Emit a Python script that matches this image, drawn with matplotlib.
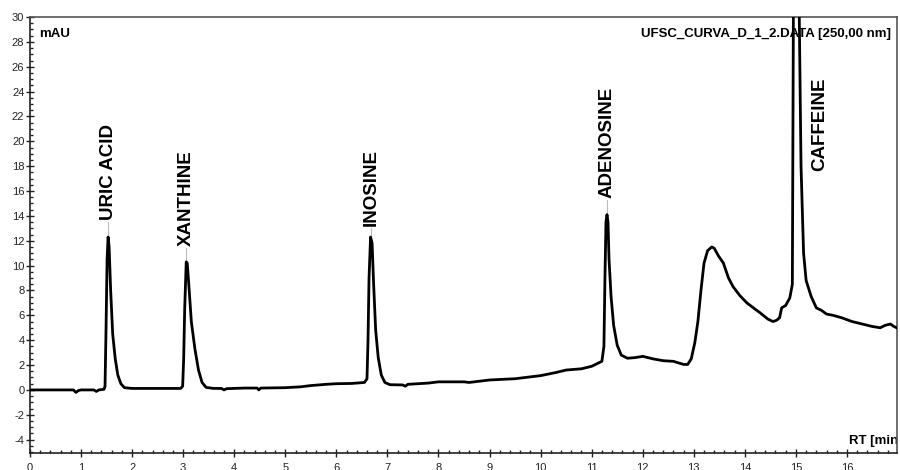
import numpy as np
import matplotlib
matplotlib.use('Agg')
import matplotlib.pyplot as plt
from matplotlib.ticker import MultipleLocator

plt.rcParams['font.family'] = ['Liberation Sans', 'DejaVu Sans']

# retention time [min] and absorbance [mAU]
rt = [0.0, 0.5, 0.85, 0.9, 0.95, 1.0, 1.25, 1.3, 1.35, 1.45,
      1.47, 1.49, 1.51, 1.53, 1.55, 1.58, 1.62, 1.67, 1.72, 1.78, 1.85, 2.0, 2.5, 2.95,
      2.99, 3.01, 3.03, 3.06, 3.08, 3.11, 3.16, 3.23, 3.3, 3.37, 3.45, 3.6, 3.75, 3.8,
      3.85, 4.2, 4.45, 4.48, 4.52, 5.0, 5.3, 5.5, 5.8, 6.0, 6.3, 6.55,
      6.6, 6.62, 6.64, 6.67, 6.7, 6.73, 6.77, 6.82, 6.88, 6.95, 7.05, 7.3, 7.35, 7.4,
      7.6, 7.8, 8.0, 8.5, 8.6, 9.0, 9.5, 10.0, 10.3, 10.5, 10.8, 11.0, 11.2, 11.24,
      11.26, 11.28, 11.3, 11.32, 11.34, 11.38, 11.43, 11.5, 11.58, 11.7, 11.85, 12.0,
      12.2, 12.4, 12.6, 12.8, 12.88, 12.95, 13.02, 13.08, 13.14, 13.2, 13.27, 13.35,
      13.4, 13.48, 13.58, 13.68, 13.77, 13.9, 14.04, 14.2, 14.3, 14.45, 14.55, 14.62,
      14.68, 14.72, 14.8, 14.88, 14.93,
      14.95, 15.0, 15.03, 15.06, 15.1, 15.15, 15.2, 15.3, 15.4, 15.5, 15.6, 15.73,
      15.9, 16.1, 16.3, 16.5, 16.65, 16.75, 16.85, 16.92, 17.0]
mau = [0.0, 0.0, 0.0, -0.2, -0.05, 0.0, 0.0, -0.12, 0.0, 0.05,
       0.3, 5.0, 10.5, 12.3, 11.5, 8.0, 4.5, 2.5, 1.2, 0.5, 0.18, 0.12, 0.12, 0.12,
       0.3, 2.5, 6.5, 10.3, 10.2, 8.5, 5.5, 3.3, 1.6, 0.6, 0.2, 0.12, 0.12, 0.0,
       0.1, 0.15, 0.15, 0.0, 0.15, 0.18, 0.25, 0.35, 0.45, 0.5, 0.52, 0.6,
       0.9, 4.0, 9.0, 12.3, 11.8, 8.5, 4.8, 2.6, 1.2, 0.6, 0.42, 0.4, 0.3, 0.45,
       0.5, 0.55, 0.65, 0.65, 0.6, 0.8, 0.9, 1.15, 1.4, 1.6, 1.7, 1.9, 2.3, 3.5,
       9.0, 13.5, 14.1, 13.5, 10.5, 7.5, 5.2, 3.6, 2.8, 2.55, 2.6, 2.7,
       2.5, 2.35, 2.3, 2.05, 2.05, 2.5, 3.8, 5.5, 8.0, 10.2, 11.2, 11.5,
       11.4, 10.8, 10.2, 9.0, 8.3, 7.6, 7.0, 6.5, 6.2, 5.7, 5.5, 5.6,
       5.8, 6.6, 6.8, 7.4, 8.5,
       30.0, 50.0, 52.0, 32.0, 18.0, 11.0, 8.8, 7.5, 6.6, 6.4, 6.1, 6.0,
       5.8, 5.5, 5.3, 5.1, 5.0, 5.2, 5.3, 5.1, 4.95]

# peak labels: name, apex rt, apex height, label start height, label rt
peak_names = ['URIC ACID', 'XANTHINE', 'INOSINE', 'ADENOSINE', 'CAFFEINE']
peak_rt = [1.53, 3.06, 6.67, 11.3, 15.03]
peak_top = [12.3, 10.3, 12.3, 14.1, None]
label_y = [13.5, 11.4, 13.0, 15.3, 17.5]
label_rt = [1.53, 3.07, 6.68, 11.3, 15.47]

fig = plt.figure(figsize=(9, 4.7), dpi=100)
ax = fig.add_axes([0.0333, 0.0355, 0.9634, 0.9283])

ax.plot(rt, mau, color='black', lw=2.0, zorder=5, solid_joinstyle='round')

for name, prt, top, ly, lx in zip(peak_names, peak_rt, peak_top, label_y, label_rt):
    if top is not None:
        ax.plot([prt, prt], [top, ly], color='#bbbbbb', lw=0.8, zorder=2)
    ax.text(lx, ly + 0.15, name, rotation=90, ha='center', va='bottom',
            fontsize=13.5, fontweight='bold', zorder=3)

ax.set_xlim(0, 16.98)
ax.set_ylim(-5.1, 30)

ax.xaxis.set_major_locator(MultipleLocator(1))
ax.xaxis.set_minor_locator(MultipleLocator(0.2))
ax.yaxis.set_major_locator(MultipleLocator(2))
ax.yaxis.set_minor_locator(MultipleLocator(0.5))
ax.tick_params(which='major', direction='inout', length=6, width=1.0,
               labelsize=8, colors='#222222', pad=1)
ax.tick_params(axis='x', which='major', pad=4)
ax.tick_params(which='minor', direction='in', length=2.5, width=1.0, colors='#222222')
ax.yaxis.set_major_formatter(plt.FuncFormatter(lambda v, p: '%d' % v))

for side in ['left', 'bottom']:
    ax.spines[side].set_color('#222222')
    ax.spines[side].set_linewidth(1.2)
for side in ['top', 'right']:
    ax.spines[side].set_color('#555555')
    ax.spines[side].set_linewidth(1.2)

ax.text(0.011, 0.962, 'mAU', transform=ax.transAxes, ha='left', va='center',
        fontsize=9.5, fontweight='bold', zorder=1)
ax.text(0.9935, 0.962, 'UFSC_CURVA_D_1_2.DATA [250,00 nm]', transform=ax.transAxes,
        ha='right', va='center', fontsize=9.5, fontweight='bold', zorder=1)
ax.text(0.9445, 0.028, 'RT [min]', transform=ax.transAxes, ha='left', va='center',
        fontsize=9.5, fontweight='bold', clip_on=True, zorder=1)

fig.savefig('out.png', dpi=100)
